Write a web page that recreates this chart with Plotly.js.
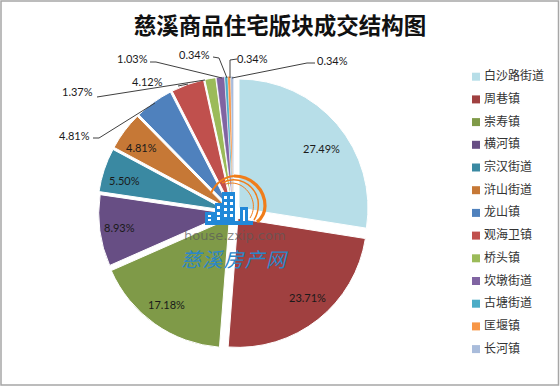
<!DOCTYPE html>
<html><head><meta charset="utf-8">
<script src="https://cdn.plot.ly/plotly-3.0.1.min.js"></script>
<style>html,body{margin:0;padding:0;background:#fff}#c{width:560px;height:386px}</style>
</head><body><div id="c"></div><script>
const categories=['白沙路街道','周巷镇','崇寿镇','横河镇','宗汉街道','浒山街道','龙山镇','观海卫镇','桥头镇','坎墩街道','古塘街道','匡堰镇','长河镇'];
const values=[27.49,23.71,17.18,8.93,5.50,4.81,4.81,4.12,1.37,1.03,0.34,0.34,0.34];
const colors=['#B7DEE8','#A04040','#7F9A48','#674E84','#3A89A2','#C67836','#4F81BD','#C0504D','#9BBB59','#8064A2','#4BACC6','#F79646','#A9BCDB'];
const pulls=[0.056,0.056,0.056,0.045,0.056,0.056,0.056,0.056,0.056,0.056,0.056,0.056,0.056];
const lineWidths=[1,1,1,1,1,1,1,1,1,0.6,0.2,0.2,0.2];
const labelPos=[[321,148],[307,297],[166,304],[119,227],[124,180],[141,147],[74,135],[147,82],[77,92],[132,59],[194,54],[252,59],[332,60]];
const leaders=[null,null,null,null,null,null,
 [[93,138],[99,138],[155,103]],[[178,86],[188,84]],[[97,97],[205,80]],
 [[150,62],[156,62],[222,78]],[[213,57],[219,58],[227,78]],[[237,59],[230,60],[230,78]],[[315,63],[307,63],[232,78]]];
const W=560,H=386,cx=233.5,cy=212.7,R=129;
const X=x=>x/W,Y=y=>1-y/H;
const half=R*(1+Math.max(...pulls));
const pathOf=c=>c.map(s=>s[0]+s.slice(1).map(p=>X(p[0])+','+Y(p[1])).join(' ')).join(' ');
const shapes=[],ann=[];
const rect=(x0,y0,x1,y1,col)=>shapes.push({type:'rect',xref:'paper',yref:'paper',x0:X(x0),x1:X(x1),y0:Y(y0),y1:Y(y1),fillcolor:col,line:{width:0},layer:'above'});
const txt=(x,y,t,size,col,anchor,fam)=>ann.push({xref:'paper',yref:'paper',x:X(x),y:Y(y),text:t,showarrow:false,xanchor:anchor||'center',yanchor:'middle',
  font:{size:size,color:col,family:fam||'Lato,"Liberation Sans",sans-serif'}});
// frame
shapes.push({type:'rect',xref:'paper',yref:'paper',x0:X(1),x1:X(558.5),y0:Y(1),y1:Y(385),line:{color:'#A6A6A6',width:1.5},layer:'below'});
// leaders
leaders.forEach(l=>{if(l)shapes.push({type:'path',xref:'paper',yref:'paper',path:l.map((p,i)=>(i?'L':'M')+X(p[0])+','+Y(p[1])).join(' '),line:{color:'#404040',width:1},layer:'above'});});
// labels
values.forEach((v,i)=>txt(labelPos[i][0],labelPos[i][1],v.toFixed(2)+'%',11,'#1a1a1a'));
// legend
categories.forEach((c,i)=>{const y=76.7+i*22.7;
  rect(472,y-4,480,y+4,colors[i]);
  txt(481.5,y-2,c,12,'#333','left','"Noto Sans CJK SC"');});
// logo
const arc=(pts,w)=>shapes.push({type:'path',xref:'paper',yref:'paper',path:pathOf(pts),line:{color:'#F07D1A',width:w},layer:'above'});
arc([['M',[211,193]],['C',[216,183],[224,177],[234,176]]],2);
arc([['M',[234,176]],['C',[252,176],[265,190],[265,206]],['C',[265,212],[262,218],[257,222]]],3.2);
arc([['M',[222,183]],['C',[236,175],[254,183],[258,200]],['C',[259,208],[258,214],[254,220]]],1.5);
arc([['M',[226,184]],['C',[238,180],[250,189],[253,202]],['C',[254,208],[253,213],[250,218]]],1);
const blue='#2188D8';
rect(222,192,235,223,blue);rect(215,203,222,223,blue);rect(205,212,215,223,blue);rect(240,207,248,223,blue);rect(243,210,245,222,'#fff');rect(205,221,253,225,blue);
[196,202,208,214].forEach(y=>[224,230].forEach(x=>rect(x,y,x+3,y+3,'#fff')));
[206,212,217].forEach(y=>rect(217,y,220,y+3,'#fff'));
[215,219].forEach(y=>rect(208,y,211,y+2,'#fff'));
txt(235,236,'house.zxip.com',13,'rgba(90,90,90,0.7)','center','"DejaVu Sans"');
txt(235,258.5,'<i>慈\u200A溪\u200A房\u200A产\u200A网</i>',20,'#2B86C8','center','"Noto Sans CJK SC"');
const data=[{type:'pie',labels:categories,values:values,sort:false,direction:'clockwise',rotation:0,
 marker:{colors:colors,line:{color:'#fff',width:lineWidths}},pull:pulls,textinfo:'none',hoverinfo:'label+percent',showlegend:false,
 domain:{x:[(cx-half)/W,(cx+half)/W],y:[1-(cy+half)/H,1-(cy-half)/H]}}];
const layout={width:W,height:H,margin:{l:0,r:0,t:0,b:0},paper_bgcolor:'#fff',showlegend:false,
 title:{text:'<b>慈溪商品住宅版块成交结构图</b>',x:280/W,xanchor:'center',y:1-26/H,yanchor:'middle',font:{size:22.5,color:'#111',family:'"Noto Sans CJK SC"'}},
 shapes:shapes,annotations:ann};
Plotly.newPlot('c',data,layout,{displayModeBar:false,staticPlot:true});
</script></body></html>
